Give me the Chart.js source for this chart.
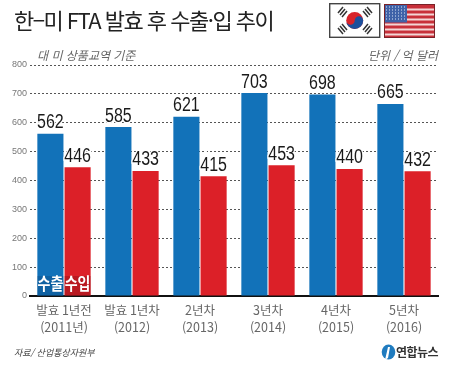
<!DOCTYPE html>
<html lang="ko">
<head>
<meta charset="utf-8">
<style>
  html, body { margin: 0; padding: 0; background: #fff; }
  #wrap { position: relative; width: 453px; height: 366px; overflow: hidden; font-family: "Noto Sans CJK KR", sans-serif; }
  #wrap div, #wrap svg { position: absolute; white-space: nowrap; }
  canvas { position: absolute; left: 0; top: 0; }
  #title { left: 14px; top: 3px; font-size: 22px; line-height: 32px; color: #222; letter-spacing: -1.5px; }
  .note { top: 46px; font-size: 12px; line-height: 18px; color: #666; font-style: italic; }
  #source { left: 14px; top: 346px; font-size: 9px; line-height: 14px; color: #444; font-style: italic; }
  #brand { left: 396px; top: 344px; font-size: 12px; line-height: 16px; font-weight: 700; color: #333; letter-spacing: -0.5px; }
</style>
</head>
<body>
<div id="wrap">
  <canvas id="myChart" width="453" height="366"></canvas>
  <div id="title">한−미 FTA 발효 후 수출·입 추이</div>
  <div class="note" style="left:37px">대 미 상품교역 기준</div>
  <div class="note" style="left:368px">단위 / 억 달러</div>
  <div id="source">자료/ 산업통상자원부</div>
  <div id="brand">연합뉴스</div>

  <svg style="left:329px;top:3px" width="52" height="36" viewBox="0 0 52 36">
    <rect x="0.7" y="0.7" width="50" height="33.6" fill="#fff" stroke="#444" stroke-width="1.4"/>
    <circle cx="25.7" cy="17.5" r="8.5" fill="#d8232a"/>
    <path d="M17.2 17.5a8.5 8.5 0 0 0 17 0a4.25 4.25 0 0 0-8.5 0a4.25 4.25 0 0 1-8.5 0z" fill="#1c4f9c"/>
    <g stroke="#333" stroke-width="1.5">
      <path d="M9 10l5-6M11 12l5-6M13 14l5-6"/>
      <path d="M34 8l5 6M36 6l5 6M38 4l5 6"/>
      <path d="M9 25l5 6M11 23l5 6M13 21l5 6"/>
      <path d="M34 27l5-6M36 29l5-6M38 31l5-6"/>
    </g>
  </svg>
  <svg style="left:384px;top:4px" width="51" height="34" viewBox="0 0 51 34">
    <rect width="51" height="34" fill="#c8303a"/>
    <g fill="#f3d6d6">
      <rect y="4.5" width="51" height="2"/><rect y="9.5" width="51" height="2"/>
      <rect y="14.5" width="51" height="2"/><rect y="19.5" width="51" height="2"/>
      <rect y="24.5" width="51" height="2"/><rect y="29.5" width="51" height="2"/>
    </g>
    <rect x="1" y="1" width="22" height="17.5" fill="#3f62a8"/>
    <path d="M2 3h20M2 6h20M2 9h20M2 12h20M2 15h20" stroke="#dfe7f5" stroke-width="1" stroke-dasharray="1 2"/>
    <rect x="0.5" y="0.5" width="50" height="33" fill="none" stroke="#7a2228"/>
  </svg>
  <svg style="left:381px;top:343px" width="15" height="19" viewBox="0 0 15 19">
    <ellipse cx="7.5" cy="9" rx="6.8" ry="7.5" fill="#1f7bbf"/>
    <path d="M7 4l2 0l-2 11l-3 2z" fill="#fff"/>
  </svg>
</div>

<script src="https://cdn.jsdelivr.net/npm/chart.js@4"></script>
<script>
const categories = [
  ['발효 1년전', '(2011년)'],
  ['발효 1년차', '(2012)'],
  ['2년차', '(2013)'],
  ['3년차', '(2014)'],
  ['4년차', '(2015)'],
  ['5년차', '(2016)']
]
const exportsKr = [562, 585, 621, 703, 698, 665]
const importsKr = [446, 433, 415, 453, 440, 432]
const seriesNames = ['수출', '수입']
const yTicks = [0, 100, 200, 300, 400, 500, 600, 700, 800]

// value labels on top of bars, series names inside the first pair
const barText = {
  id: 'barText',
  afterDatasetsDraw(chart) {
    const c = chart.ctx
    c.save()
    c.textAlign = 'center'
    chart.data.datasets.forEach((ds, i) => {
      const meta = chart.getDatasetMeta(i)
      meta.data.forEach((bar, j) => {
        c.save()
        c.translate(bar.x, bar.y - 1)
        c.scale(0.8, 1)
        c.font = '20px "Liberation Sans", sans-serif'
        c.textBaseline = 'bottom'
        c.strokeStyle = '#fff'
        c.lineWidth = 3
        c.strokeText(ds.data[j], 0, 0)
        c.fillStyle = '#1a1a1a'
        c.fillText(ds.data[j], 0, 0)
        c.restore()
      })
      const first = meta.data[0]
      const base = chart.scales.y.getPixelForValue(0)
      c.fillStyle = i == 0 ? 'rgba(10,60,110,0.3)' : 'rgba(120,15,20,0.35)'
      c.fillRect(first.x - first.width / 2, base - 20, first.width, 20)
      c.save()
      c.translate(first.x, base - 12)
      c.scale(1, 1.2)
      c.font = 'bold 14px "Noto Sans CJK KR", sans-serif'
      c.fillStyle = '#fff'
      c.textBaseline = 'middle'
      c.fillText(seriesNames[i], 0, 0)
      c.restore()
    })
    c.restore()
  }
}

const ctx = document.getElementById('myChart')

new Chart(ctx, {
  type: 'bar',
  plugins: [barText],
  data: {
    labels: categories,
    datasets: [{
      label: seriesNames[0],
      data: exportsKr,
      backgroundColor: '#1272b9',
      categoryPercentage: 0.8,
      barPercentage: 0.96
    }, {
      label: seriesNames[1],
      data: importsKr,
      backgroundColor: '#dc2028',
      categoryPercentage: 0.8,
      barPercentage: 0.96
    }]
  },
  options: {
    responsive: false,
    animation: false,
    layout: { padding: { top: 65, right: 15, bottom: 0, left: 0 } },
    plugins: { legend: { display: false }, tooltip: { enabled: false } },
    scales: {
      x: {
        grid: { display: false },
        border: { color: '#111', width: 2 },
        ticks: { color: '#666', padding: -2, maxRotation: 0, autoSkip: false, font: { family: '"Noto Sans CJK KR", sans-serif', size: 12.5, lineHeight: 1.35 } },
        afterFit(axis) { axis.height = 70 }
      },
      y: {
        min: 0,
        max: 800,
        afterBuildTicks(axis) { axis.ticks = yTicks.map(v => ({ value: v })) },
        grid: { color: '#555', drawTicks: false },
        border: { display: false, dash: [2, 2] },
        ticks: { color: '#777', padding: 3, font: { family: '"Liberation Sans", sans-serif', size: 9 } },
        afterFit(axis) { axis.width = 30 }
      }
    }
  }
})
</script>
</body>
</html>
